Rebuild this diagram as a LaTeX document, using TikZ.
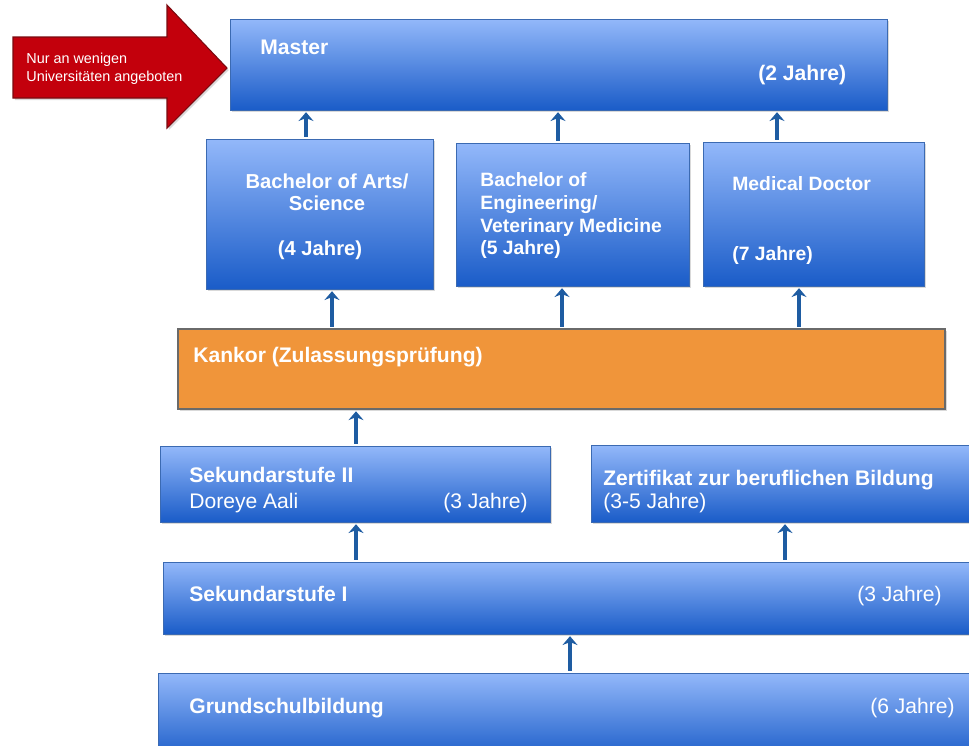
\documentclass[tikz,border=0pt]{standalone}
\usepackage{fontspec}
\setmainfont{Liberation Sans}
\usetikzlibrary{fit,shadows,arrows.meta}
\definecolor{boxtop}{HTML}{93B8FA}
\definecolor{boxbot}{HTML}{1A5CC8}
\definecolor{boxline}{HTML}{3B6AB2}
\definecolor{examfill}{HTML}{F0953A}
\definecolor{examline}{HTML}{6A6A6A}
\definecolor{arrowblue}{HTML}{1E5CA2}
\definecolor{hintred}{HTML}{C3000C}
\definecolor{hintline}{HTML}{7A0A10}

\begin{document}
\begin{tikzpicture}[x=0.02cm,y=-0.02cm,
    level/.style={draw=boxline,line width=0.5pt,top color=boxtop,bottom color=boxbot,inner sep=0pt,
      drop shadow={opacity=0.3,shadow xshift=1pt,shadow yshift=-1.2pt}},
    exam/.style={draw=examline,line width=0.6pt,fill=examfill,inner sep=0pt,
      drop shadow={opacity=0.3,shadow xshift=1pt,shadow yshift=-1.2pt}},
    txt/.style={text=white,font=\fontsize{12}{13}\selectfont\bfseries,inner sep=0pt,anchor=base west},
    txtn/.style={txt,font=\fontsize{12}{13}\selectfont},
    txts/.style={txt,font=\fontsize{11}{13}\selectfont\bfseries},
    up/.style={arrowblue,line width=2.2pt,-{Stealth[width=8.5pt,length=5pt]},shorten <=1pt,shorten >=1pt}]
    \clip (0,0) rectangle (969,745);

    % boxes
    \node[level,fit={(230,19) (887,110)}]  (master) {};
    \node[level,fit={(206,139) (433,289)}] (ba)     {};
    \node[level,fit={(456,143) (689,286)}] (be)     {};
    \node[level,fit={(703,142) (924,286)}] (md)     {};
    \node[exam,fit={(178,329) (945,409)}]  (kankor) {};
    \node[level,fit={(160,446) (550,522)}] (sek2)   {};
    \node[level,fit={(591,445) (985,522)}] (zert)   {};
    \node[level,fit={(163,562) (985,634)}] (sek1)   {};
    \node[level,fit={(158,673) (985,760)}] (grund)  {};

    % texts
    \node[txt] (t_master)   at (260,54)  {Master};
    \node[txt] (t_master_j) at (758,80)  {(2 Jahre)};
    \node[txts,anchor=base,font=\fontsize{11.5}{13}\selectfont\bfseries] (t_ba1) at (327,188) {Bachelor of Arts/};
    \node[txts,anchor=base,font=\fontsize{11.5}{13}\selectfont\bfseries] (t_ba2) at (327,210) {Science};
    \node[txts,anchor=base,font=\fontsize{11.5}{13}\selectfont\bfseries] (t_ba3) at (320,255) {(4 Jahre)};
    \node[txts,anchor=north west,align=left] (t_be) at (480,172)
      {Bachelor of\\Engineering/\\Veterinary Medicine\\(5 Jahre)};
    \node[txts] (t_md)   at (732,190) {Medical Doctor};
    \node[txts] (t_md_j) at (732,260) {(7 Jahre)};
    \node[txt] (t_kankor) at (193,362) {Kankor (Zulassungsprüfung)};
    \node[txt]  (t_sek2)   at (189,482) {Sekundarstufe II};
    \node[txtn] (t_sek2_n) at (189,508) {Doreye Aali};
    \node[txtn] (t_sek2_j) at (443,508) {(3 Jahre)};
    \node[txt]  (t_zert)   at (603,485) {Zertifikat zur beruflichen Bildung};
    \node[txtn] (t_zert_j) at (603,508) {(3-5 Jahre)};
    \node[txt]  (t_sek1)   at (189,601) {Sekundarstufe I};
    \node[txtn,anchor=base east] (t_sek1_j) at (942,601) {(3 Jahre)};
    \node[txt]  (t_grund)  at (189,713) {Grundschulbildung};
    \node[txtn,anchor=base east] (t_grund_j) at (955,713) {(6 Jahre)};

    % hint arrow
    \draw[fill=hintred,draw=hintline,line width=0.6pt,
      drop shadow={opacity=0.3,shadow xshift=1pt,shadow yshift=-1.2pt}]
      (13,37) -- (167,37) -- (167,5) -- (227,68) -- (167,128) -- (167,98) -- (13,98) -- cycle;
    \node[text=white,font=\fontsize{8.2}{10.2}\selectfont,inner sep=0pt,anchor=north west,align=left]
      (hint) at (26,53) {Nur an wenigen\\Universitäten angeboten};

    % arrows
    \coordinate (x1) at (306,0);
    \coordinate (x2) at (558,0);
    \coordinate (x3) at (777,0);
    \coordinate (x4) at (332,0);
    \coordinate (x5) at (562,0);
    \coordinate (x6) at (799,0);
    \coordinate (x7) at (356,0);
    \coordinate (x8) at (785,0);
    \coordinate (x9) at (570,0);
    \path[up]
    (ba.north -| x1)     edge (master.south -| x1)
    (be.north -| x2)     edge (master.south -| x2)
    (md.north -| x3)     edge (master.south -| x3)
    (kankor.north -| x4) edge (ba.south -| x4)
    (kankor.north -| x5) edge (be.south -| x5)
    (kankor.north -| x6) edge (md.south -| x6)
    (sek2.north -| x7)   edge (kankor.south -| x7)
    (sek1.north -| x7)   edge (sek2.south -| x7)
    (sek1.north -| x8)   edge (zert.south -| x8)
    (grund.north -| x9)  edge (sek1.south -| x9);
\end{tikzpicture}
\end{document}
